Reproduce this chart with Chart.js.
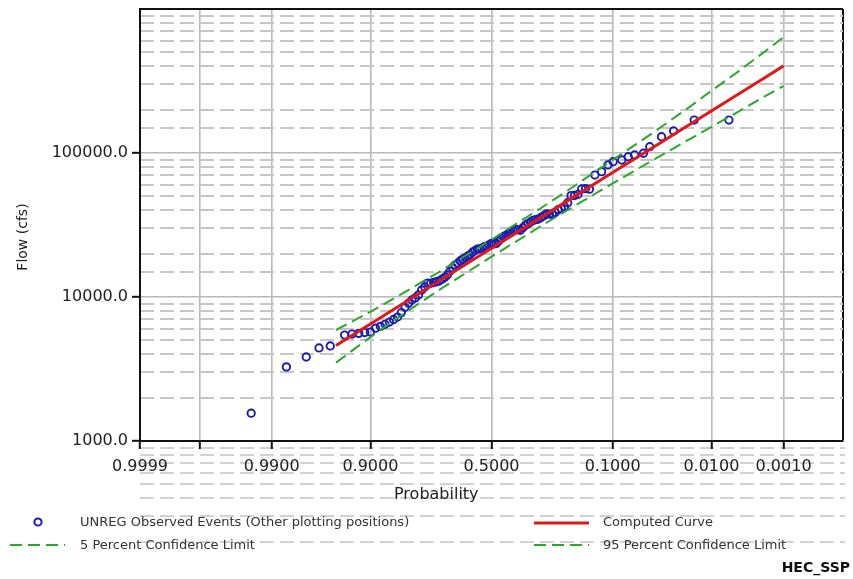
<!DOCTYPE html>
<html>
<head>
<meta charset="utf-8">
<script src="https://cdn.jsdelivr.net/npm/chart.js@4.4.0/dist/chart.umd.min.js"></script>
<style>
  html, body { margin: 0; padding: 0; background: #ffffff; }
  #wrap { position: relative; width: 853px; height: 579px; overflow: hidden; font-family: "DejaVu Sans", sans-serif; }
  #c { position: absolute; left: 0; top: 0; }
  .txt { position: absolute; white-space: nowrap; color: #333; font-size: 13px; line-height: 16px; }
  .sym { position: absolute; }
  #xtitle { position: absolute; left: 394px; top: 484px; font-size: 16px; color: #222; white-space: nowrap; }
  #ytitle { position: absolute; left: 22px; top: 237px; font-size: 14px; color: #222; white-space: nowrap;
            transform: translate(-50%, -50%) rotate(-90deg); }
  #brand { position: absolute; right: 3px; top: 559px; font-size: 14px; font-weight: bold; color: #111; }
</style>
</head>
<body>
<div id="wrap">
  <canvas id="c" width="853" height="579"></canvas>
  <div id="xtitle">Probability</div>
  <div id="ytitle">Flow (cfs)</div>
  <svg class="sym" style="left:30px;top:514px" width="16" height="16"><circle cx="8" cy="8" r="3.6" fill="none" stroke="#1c1cb0" stroke-width="2"/></svg>
  <div class="txt" style="left:80px;top:514px">UNREG Observed Events (Other plotting positions)</div>
  <svg class="sym" style="left:533px;top:515px" width="58" height="16"><line x1="1" y1="8" x2="56" y2="8" stroke="#e01818" stroke-width="3"/></svg>
  <div class="txt" style="left:603px;top:514px">Computed Curve</div>
  <svg class="sym" style="left:9px;top:537px" width="58" height="16"><line x1="1" y1="8" x2="56" y2="8" stroke="#2aa82a" stroke-width="2" stroke-dasharray="12,6"/></svg>
  <div class="txt" style="left:80px;top:537px">5 Percent Confidence Limit</div>
  <svg class="sym" style="left:533px;top:537px" width="58" height="16"><line x1="1" y1="8" x2="56" y2="8" stroke="#2aa82a" stroke-width="2" stroke-dasharray="12,6"/></svg>
  <div class="txt" style="left:603px;top:537px">95 Percent Confidence Limit</div>
  <div id="brand">HEC_SSP</div>
</div>
<script>
// ---------------- data ----------------
const probTicks  = [0.9999, 0.999, 0.99, 0.9, 0.5, 0.1, 0.01, 0.001, 0.0001];
const probLabels = ['0.9999', '', '0.9900', '0.9000', '0.5000', '0.1000', '0.0100', '0.0010', ''];
const flowLabelValues = [1000, 10000, 100000];

const curveProb    = [0.95, 0.9, 0.8, 0.7, 0.5, 0.3, 0.2, 0.1, 0.05, 0.02, 0.01, 0.005, 0.002, 0.001];
const computedFlow = [4610, 6490, 9840, 13270, 21780, 35730, 48200, 73100, 102800, 151400, 195900, 247800, 329600, 402700];
const conf5Flow    = [5900, 7890, 11560, 15350, 25000, 41500, 56900, 89500, 129400, 199500, 270400, 354000, 498900, 638300];
const conf95Flow   = [3500, 5270, 8380, 11510, 19050, 31120, 41500, 61520, 84530, 120200, 152100, 187900, 244300, 291700];

// observed events, listed from the smallest flow (highest exceedance probability) upward
const obsProb = [0.9945, 0.985, 0.975, 0.966, 0.956,
  0.94, 0.93, 0.92, 0.91, 0.90, 0.89, 0.88, 0.87, 0.86, 0.85, 0.84, 0.83, 0.82, 0.81, 0.80,
  0.79, 0.78, 0.77, 0.76, 0.75, 0.74, 0.73, 0.72, 0.71, 0.70, 0.69, 0.68, 0.67, 0.66, 0.65,
  0.64, 0.63, 0.62, 0.61, 0.60, 0.59, 0.58, 0.57, 0.56, 0.55, 0.54, 0.53, 0.52, 0.51, 0.50,
  0.49, 0.48, 0.47, 0.46, 0.45, 0.44, 0.43, 0.42, 0.41, 0.40, 0.39, 0.38, 0.37, 0.36, 0.35,
  0.34, 0.33, 0.32, 0.31, 0.30, 0.29, 0.28, 0.27, 0.26, 0.25, 0.24, 0.23, 0.22, 0.21, 0.20,
  0.19, 0.18, 0.17, 0.16, 0.15,
  0.137, 0.122, 0.109, 0.099, 0.084, 0.074, 0.065, 0.054, 0.047, 0.036, 0.027, 0.016, 0.006];
const obsFlow = [1560, 3270, 3830, 4430, 4570,
  5440, 5530, 5590, 5670, 5710, 6070, 6250, 6460, 6700, 6980, 7260, 7790, 8480, 9060, 9530,
  9850, 10340, 11190, 11730, 12490, 12450, 12610, 12760, 12920, 13280, 13640, 14220, 15080, 15990, 16670,
  17100, 17800, 18260, 18720, 19180, 19640, 20450, 20960, 21460, 21620, 21810, 22330, 22500, 23030, 23590,
  23390, 23570, 24520, 25510, 26150, 26770, 27420, 28100, 28800, 29480, 29270, 29050, 30270, 31530, 32340,
  33170, 34060, 34420, 34780, 35710, 36710, 37760, 37630, 37490, 38600, 40440, 41050, 42340, 45140, 50590,
  50690, 51670, 56220, 56540, 56090,
  70300, 74200, 82600, 87000, 89400, 94300, 96900, 99600, 110600, 129800, 142200, 169400, 169400];

// minor flow grid values whose dashed lines run on below the plot in the reference image
const belowFlowLines = [900, 800, 700, 600, 500, 400, 300, 200];

// ---------------- normal probability scale ----------------
function normInv(p) {
  const a = [-3.969683028665376e+01, 2.209460984245205e+02, -2.759285104469687e+02, 1.383577518672690e+02, -3.066479806614716e+01, 2.506628277459239e+00];
  const b = [-5.447609879822406e+01, 1.615858368580409e+02, -1.556989798598866e+02, 6.680131188771972e+01, -1.328068155288572e+01];
  const c = [-7.784894002430293e-03, -3.223964580411365e-01, -2.400758277161838e+00, -2.549732539343734e+00, 4.374664141464968e+00, 2.938163982698783e+00];
  const d = [7.784695709041462e-03, 3.224671290700398e-01, 2.445134137142996e+00, 3.754408661907416e+00];
  const pl = 0.02425, ph = 1 - pl;
  let q, r;
  if (p < pl) {
    q = Math.sqrt(-2 * Math.log(p));
    return (((((c[0]*q+c[1])*q+c[2])*q+c[3])*q+c[4])*q+c[5]) / ((((d[0]*q+d[1])*q+d[2])*q+d[3])*q+1);
  }
  if (p <= ph) {
    q = p - 0.5; r = q * q;
    return (((((a[0]*r+a[1])*r+a[2])*r+a[3])*r+a[4])*r+a[5])*q / (((((b[0]*r+b[1])*r+b[2])*r+b[3])*r+b[4])*r+1);
  }
  q = Math.sqrt(-2 * Math.log(1 - p));
  return -(((((c[0]*q+c[1])*q+c[2])*q+c[3])*q+c[4])*q+c[5]) / ((((d[0]*q+d[1])*q+d[2])*q+d[3])*q+1);
}
function normCdf(z) {
  const t = 1 / (1 + 0.2316419 * Math.abs(z));
  const dd = 0.3989423 * Math.exp(-z * z / 2);
  const pr = dd * t * (0.3193815 + t * (-0.3565638 + t * (1.781478 + t * (-1.821256 + t * 1.330274))));
  return z > 0 ? 1 - pr : pr;
}
// exceedance probability -> standard normal variate
function zOf(p) { return normInv(1 - p); }

class ProbabilityScale extends Chart.Scale {
  determineDataLimits() {
    this.min = this.options.min;
    this.max = this.options.max;
  }
  buildTicks() {
    return probTicks.map(v => ({ value: v }));
  }
  getLabelForValue(v) { return Number(v).toFixed(4); }
  configure() {
    super.configure();
    this._z0 = zOf(this.min);
    this._z1 = zOf(this.max);
  }
  getPixelForValue(v) {
    return this.getPixelForDecimal((zOf(v) - this._z0) / (this._z1 - this._z0));
  }
  getPixelForTick(i) { return this.getPixelForValue(this.ticks[i].value); }
  getValueForPixel(px) {
    const z = this._z0 + this.getDecimalForPixel(px) * (this._z1 - this._z0);
    return 1 - normCdf(z);
  }
}
ProbabilityScale.id = 'probability';
ProbabilityScale.defaults = {};
Chart.register(ProbabilityScale);

// ---------------- helpers ----------------
const pts = (xs, ys) => xs.map((x, i) => ({ x: x, y: ys[i] }));
const isDecade = v => Math.abs(Math.log10(v) - Math.round(Math.log10(v))) < 1e-9;

const belowGrid = {
  id: 'belowGrid',
  beforeDraw(chart) {
    const ys = chart.scales.y, area = chart.chartArea, ctx = chart.ctx;
    ctx.save();
    ctx.strokeStyle = '#d2d2d2';
    ctx.lineWidth = 2;
    ctx.setLineDash([14, 6]);
    belowFlowLines.forEach(v => {
      const py = Math.round(ys.getPixelForValue(v));
      ctx.beginPath();
      ctx.moveTo(area.left, py);
      ctx.lineTo(area.right + 2, py);
      ctx.stroke();
    });
    ctx.restore();
  }
};

const FONT = 'DejaVu Sans';

new Chart(document.getElementById('c'), {
  type: 'line',
  data: {
    datasets: [
      {
        label: 'Computed Curve',
        data: pts(curveProb, computedFlow),
        borderColor: '#e01818', borderWidth: 3, pointRadius: 0, fill: false, tension: 0
      },
      {
        label: '5 Percent Confidence Limit',
        data: pts(curveProb, conf5Flow),
        borderColor: '#2aa82a', borderWidth: 2, borderDash: [12, 6], pointRadius: 0, fill: false, tension: 0
      },
      {
        label: '95 Percent Confidence Limit',
        data: pts(curveProb, conf95Flow),
        borderColor: '#2aa82a', borderWidth: 2, borderDash: [12, 6], pointRadius: 0, fill: false, tension: 0
      },
      {
        label: 'UNREG Observed Events (Other plotting positions)',
        data: pts(obsProb, obsFlow),
        showLine: false,
        pointStyle: 'circle', pointRadius: 3.7, pointBorderWidth: 1.9,
        pointBorderColor: '#1c1cb0', pointBackgroundColor: 'rgba(255,255,255,0)',
        borderColor: '#1c1cb0'
      }
    ]
  },
  options: {
    responsive: false,
    animation: false,
    layout: { padding: { left: 0, right: 10, top: 9, bottom: 73 } },
    plugins: { legend: { display: false }, tooltip: { enabled: false } },
    scales: {
      x: {
        type: 'probability',
        position: 'bottom',
        min: 0.9999,
        max: 0.0001,
        afterFit: s => { s.height = 65; },
        grid: {
          color: c => c.index === probTicks.length - 1 ? '#111111' : '#b9b9b9',
          lineWidth: c => c.index === probTicks.length - 1 ? 2 : 1.6,
          tickLength: 8,
          tickWidth: 2,
          tickColor: c => c.index === probTicks.length - 1 ? 'rgba(0,0,0,0)' : '#111111'
        },
        border: { color: '#111111', width: 2 },
        ticks: {
          autoSkip: false, maxRotation: 0, minRotation: 0, padding: 8,
          color: '#222', font: { family: FONT, size: 16 },
          callback: (v, i) => probLabels[i]
        }
      },
      y: {
        type: 'logarithmic',
        position: 'left',
        min: 1000,
        max: 1000000,
        afterFit: s => { s.width = 140; s.paddingTop = 0; s.paddingBottom = 0; },
        grid: {
          color: c => {
            const v = c.tick ? c.tick.value : 0;
            if (v >= 1000000) return '#111111';
            return isDecade(v) ? '#b9b9b9' : 'rgba(0,0,0,0)';
          },
          lineWidth: c => {
            const v = c.tick ? c.tick.value : 0;
            return v >= 1000000 ? 2 : 1.6;
          },
          tickLength: 8,
          tickWidth: 2,
          tickColor: c => {
            const v = c.tick ? c.tick.value : 0;
            return (isDecade(v) && v < 1000000) ? '#111111' : 'rgba(0,0,0,0)';
          }
        },
        border: { color: '#111111', width: 2 },
        ticks: {
          autoSkip: false, padding: 4, color: '#222',
          font: { family: FONT, size: 16 },
          callback: v => flowLabelValues.includes(v) ? Number(v).toFixed(1) : ''
        }
      },
      yMinor: {
        type: 'logarithmic',
        position: 'left',
        min: 1000,
        max: 1000000,
        afterFit: s => { s.width = 0; s.paddingTop = 0; s.paddingBottom = 0; },
        grid: {
          color: c => {
            const v = c.tick ? c.tick.value : 0;
            return isDecade(v) ? 'rgba(0,0,0,0)' : '#c6c6c6';
          },
          lineWidth: 2,
          drawTicks: false
        },
        border: { display: false, dash: [14, 6] },
        ticks: { display: false, autoSkip: false }
      }
    }
  },
  plugins: [belowGrid]
});
</script>
</body>
</html>
